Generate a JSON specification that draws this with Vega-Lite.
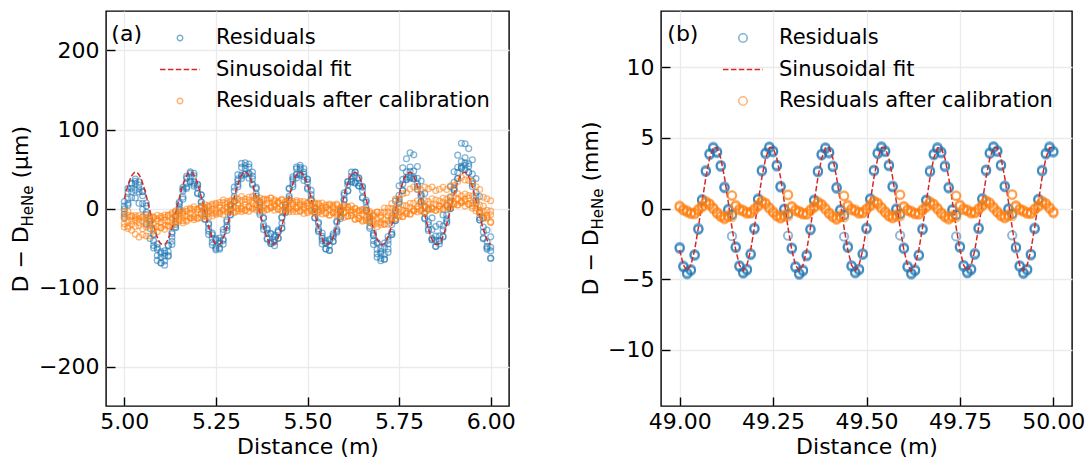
{
  "$schema": "https://vega.github.io/schema/vega-lite/v6.json",
  "padding": {"left": 8, "top": 10, "right": 5, "bottom": 2},
  "bounds": "flush",
  "spacing": 152,
  "datasets": {
    "aRes": [
      {"x":5.00,"y":-0.6},{"x":5.01,"y":12.1},{"x":5.02,"y":25.6},{"x":5.03,"y":31.8},{"x":5.04,"y":24.9},{"x":5.05,"y":16.1},{"x":5.06,"y":-4.7},{"x":5.07,"y":-20.2},{"x":5.08,"y":-41.0},{"x":5.09,"y":-51.8},
      {"x":5.10,"y":-62.0},{"x":5.11,"y":-60.2},{"x":5.12,"y":-54.9},{"x":5.13,"y":-36.4},{"x":5.14,"y":-20.1},{"x":5.15,"y":2.5},{"x":5.16,"y":22.3},{"x":5.17,"y":31.8},{"x":5.18,"y":39.5},{"x":5.19,"y":32.8},
      {"x":5.20,"y":26.3},{"x":5.21,"y":8.6},{"x":5.22,"y":-6.1},{"x":5.23,"y":-25.7},{"x":5.24,"y":-37.8},{"x":5.25,"y":-47.8},{"x":5.26,"y":-43.9},{"x":5.27,"y":-39.0},{"x":5.28,"y":-21.9},{"x":5.29,"y":-1.3},
      {"x":5.30,"y":15.2},{"x":5.31,"y":34.7},{"x":5.32,"y":42.4},{"x":5.33,"y":50.4},{"x":5.34,"y":44.6},{"x":5.35,"y":37.2},{"x":5.36,"y":18.7},{"x":5.37,"y":1.0},{"x":5.38,"y":-20.2},{"x":5.39,"y":-31.2},
      {"x":5.40,"y":-42.2},{"x":5.41,"y":-39.5},{"x":5.42,"y":-29.6},{"x":5.43,"y":-18.7},{"x":5.44,"y":1.4},{"x":5.45,"y":15.8},{"x":5.46,"y":35.3},{"x":5.47,"y":43.5},{"x":5.48,"y":50.0},{"x":5.49,"y":43.3},
      {"x":5.50,"y":33.1},{"x":5.51,"y":12.7},{"x":5.52,"y":-3.8},{"x":5.53,"y":-25.7},{"x":5.54,"y":-37.6},{"x":5.55,"y":-43.5},{"x":5.56,"y":-46.5},{"x":5.57,"y":-36.3},{"x":5.58,"y":-26.2},{"x":5.59,"y":-4.8},
      {"x":5.60,"y":11.4},{"x":5.61,"y":30.1},{"x":5.62,"y":37.4},{"x":5.63,"y":41.1},{"x":5.64,"y":32.3},{"x":5.65,"y":22.4},{"x":5.66,"y":1.1},{"x":5.67,"y":-17.1},{"x":5.68,"y":-34.6},{"x":5.69,"y":-51.8},
      {"x":5.70,"y":-56.9},{"x":5.71,"y":-58.5},{"x":5.72,"y":-44.8},{"x":5.73,"y":-30.1},{"x":5.74,"y":-6.2},{"x":5.75,"y":11.9},{"x":5.76,"y":30.9},{"x":5.77,"y":39.7},{"x":5.78,"y":47.1},{"x":5.79,"y":39.6},
      {"x":5.80,"y":30.9},{"x":5.81,"y":16.1},{"x":5.82,"y":-5.7},{"x":5.83,"y":-20.7},{"x":5.84,"y":-37.6},{"x":5.85,"y":-40.2},{"x":5.86,"y":-40.6},{"x":5.87,"y":-27.1},{"x":5.88,"y":-13.2},{"x":5.89,"y":8.4},
      {"x":5.90,"y":25.7},{"x":5.91,"y":45.6},{"x":5.92,"y":53.3},{"x":5.93,"y":57.7},{"x":5.94,"y":53.6},{"x":5.95,"y":34.4},{"x":5.96,"y":15.8},{"x":5.97,"y":-11.5},{"x":5.98,"y":-29.6},{"x":5.99,"y":-47.9},{"x":6.00,"y":-53.7},
      {"x":5.00,"y":-11.3},{"x":5.01,"y":4.0},{"x":5.02,"y":13.6},{"x":5.03,"y":13.4},{"x":5.04,"y":6.5},{"x":5.05,"y":-1.1},{"x":5.06,"y":-18.9},{"x":5.07,"y":-37.9},{"x":5.08,"y":-49.9},{"x":5.09,"y":-65.7},
      {"x":5.10,"y":-69.1},{"x":5.11,"y":-71.7},{"x":5.12,"y":-59.5},{"x":5.13,"y":-45.6},{"x":5.14,"y":-23.2},{"x":5.15,"y":-1.0},{"x":5.16,"y":14.4},{"x":5.17,"y":25.4},{"x":5.18,"y":34.3},{"x":5.19,"y":30.6},
      {"x":5.20,"y":18.6},{"x":5.21,"y":7.7},{"x":5.22,"y":-14.0},{"x":5.23,"y":-28.8},{"x":5.24,"y":-46.3},{"x":5.25,"y":-50.4},{"x":5.26,"y":-51.6},{"x":5.27,"y":-40.6},{"x":5.28,"y":-23.9},{"x":5.29,"y":-8.2},
      {"x":5.30,"y":9.8},{"x":5.31,"y":30.5},{"x":5.32,"y":41.2},{"x":5.33,"y":43.2},{"x":5.34,"y":43.7},{"x":5.35,"y":29.8},{"x":5.36,"y":15.6},{"x":5.37,"y":-7.5},{"x":5.38,"y":-22.8},{"x":5.39,"y":-38.9},
      {"x":5.40,"y":-44.3},{"x":5.41,"y":-42.5},{"x":5.42,"y":-37.5},{"x":5.43,"y":-25.1},{"x":5.44,"y":-3.8},{"x":5.45,"y":13.6},{"x":5.46,"y":27.6},{"x":5.47,"y":42.6},{"x":5.48,"y":42.1},{"x":5.49,"y":40.2},
      {"x":5.50,"y":24.6},{"x":5.51,"y":10.1},{"x":5.52,"y":-11.5},{"x":5.53,"y":-27.8},{"x":5.54,"y":-40.6},{"x":5.55,"y":-51.4},{"x":5.56,"y":-52.9},{"x":5.57,"y":-41.5},{"x":5.58,"y":-28.4},{"x":5.59,"y":-12.5},
      {"x":5.60,"y":10.5},{"x":5.61,"y":22.2},{"x":5.62,"y":34.3},{"x":5.63,"y":32.1},{"x":5.64,"y":28.7},{"x":5.65,"y":13.2},{"x":5.66,"y":-3.0},{"x":5.67,"y":-22.6},{"x":5.68,"y":-45.5},{"x":5.69,"y":-61.7},
      {"x":5.70,"y":-66.1},{"x":5.71,"y":-64.2},{"x":5.72,"y":-55.5},{"x":5.73,"y":-33.0},{"x":5.74,"y":-15.1},{"x":5.75,"y":8.3},{"x":5.76,"y":22.4},{"x":5.77,"y":37.1},{"x":5.78,"y":39.4},{"x":5.79,"y":37.5},
      {"x":5.80,"y":27.9},{"x":5.81,"y":8.2},{"x":5.82,"y":-12.1},{"x":5.83,"y":-25.9},{"x":5.84,"y":-39.8},{"x":5.85,"y":-47.9},{"x":5.86,"y":-41.5},{"x":5.87,"y":-35.0},{"x":5.88,"y":-16.3},{"x":5.89,"y":-0.1},
      {"x":5.90,"y":23.1},{"x":5.91,"y":37.9},{"x":5.92,"y":51.2},{"x":5.93,"y":54.7},{"x":5.94,"y":45.7},{"x":5.95,"y":28.0},{"x":5.96,"y":10.6},{"x":5.97,"y":-14.2},{"x":5.98,"y":-38.3},{"x":5.99,"y":-49.8},{"x":6.00,"y":-62.6},
      {"x":5.00,"y":8.8},{"x":5.01,"y":25.4},{"x":5.02,"y":31.9},{"x":5.03,"y":34.5},{"x":5.04,"y":33.7},{"x":5.05,"y":21.2},{"x":5.06,"y":7.0},{"x":5.07,"y":-15.8},{"x":5.08,"y":-32.3},{"x":5.09,"y":-45.0},
      {"x":5.10,"y":-56.7},{"x":5.11,"y":-53.6},{"x":5.12,"y":-47.1},{"x":5.13,"y":-30.0},{"x":5.14,"y":-8.8},{"x":5.15,"y":7.8},{"x":5.16,"y":24.5},{"x":5.17,"y":40.6},{"x":5.18,"y":44.6},{"x":5.19,"y":44.5},
      {"x":5.20,"y":30.7},{"x":5.21,"y":17.3},{"x":5.22,"y":0.7},{"x":5.23,"y":-20.4},{"x":5.24,"y":-31.2},{"x":5.25,"y":-40.0},{"x":5.26,"y":-37.5},{"x":5.27,"y":-26.7},{"x":5.28,"y":-14.6},{"x":5.29,"y":3.4},
      {"x":5.30,"y":27.0},{"x":5.31,"y":42.8},{"x":5.32,"y":57.1},{"x":5.33,"y":57.8},{"x":5.34,"y":56.3},{"x":5.35,"y":46.0},{"x":5.36,"y":25.0},{"x":5.37,"y":8.1},{"x":5.38,"y":-12.4},{"x":5.39,"y":-25.3},
      {"x":5.40,"y":-31.9},{"x":5.41,"y":-35.7},{"x":5.42,"y":-29.4},{"x":5.43,"y":-11.9},{"x":5.44,"y":4.5},{"x":5.45,"y":25.5},{"x":5.46,"y":37.7},{"x":5.47,"y":50.2},{"x":5.48,"y":54.8},{"x":5.49,"y":46.1},
      {"x":5.50,"y":36.7},{"x":5.51,"y":17.5},{"x":5.52,"y":-0.4},{"x":5.53,"y":-17.4},{"x":5.54,"y":-35.3},{"x":5.55,"y":-44.3},{"x":5.56,"y":-40.7},{"x":5.57,"y":-34.2},{"x":5.58,"y":-17.5},{"x":5.59,"y":-3.4},
      {"x":5.60,"y":17.1},{"x":5.61,"y":34.4},{"x":5.62,"y":40.7},{"x":5.63,"y":45.7},{"x":5.64,"y":38.1},{"x":5.65,"y":26.8},{"x":5.66,"y":10.4},{"x":5.67,"y":-13.3},{"x":5.68,"y":-33.4},{"x":5.69,"y":-43.0},
      {"x":5.70,"y":-50.8},{"x":5.71,"y":-43.8},{"x":5.72,"y":-35.4},{"x":5.73,"y":-14.4},{"x":5.74,"y":9.6},{"x":5.75,"y":28.7},{"x":5.76,"y":51.5},{"x":5.77,"y":63.0},{"x":5.78,"y":70.5},{"x":5.79,"y":67.9},
      {"x":5.80,"y":53.2},{"x":5.81,"y":34.8},{"x":5.82,"y":19.1},{"x":5.83,"y":-0.6},{"x":5.84,"y":-11.9},{"x":5.85,"y":-22.8},{"x":5.86,"y":-19.9},{"x":5.87,"y":-8.3},{"x":5.88,"y":4.1},{"x":5.89,"y":27.5},
      {"x":5.90,"y":46.5},{"x":5.91,"y":67.5},{"x":5.92,"y":82.6},{"x":5.93,"y":82.0},{"x":5.94,"y":75.8},{"x":5.95,"y":61.7},{"x":5.96,"y":37.9},{"x":5.97,"y":15.2},{"x":5.98,"y":-12.2},{"x":5.99,"y":-27.2},{"x":6.00,"y":-35.9},
      {"x":5.00,"y":-7.0},{"x":5.01,"y":6.6},{"x":5.02,"y":21.3},{"x":5.03,"y":23.1},{"x":5.04,"y":21.0},{"x":5.05,"y":6.4},{"x":5.06,"y":-7.6},{"x":5.07,"y":-25.2},{"x":5.08,"y":-46.7},{"x":5.09,"y":-59.6},
      {"x":5.10,"y":-68.6},{"x":5.11,"y":-66.5},{"x":5.12,"y":-60.6},{"x":5.13,"y":-41.5},{"x":5.14,"y":-24.4},{"x":5.15,"y":-2.6},{"x":5.16,"y":11.8},{"x":5.17,"y":27.1},{"x":5.18,"y":33.9},{"x":5.19,"y":28.3},
      {"x":5.20,"y":19.6},{"x":5.21,"y":3.1},{"x":5.22,"y":-13.3},{"x":5.23,"y":-33.0},{"x":5.24,"y":-42.8},{"x":5.25,"y":-52.3},{"x":5.26,"y":-49.8},{"x":5.27,"y":-45.1},{"x":5.28,"y":-27.8},{"x":5.29,"y":-7.7},
      {"x":5.30,"y":8.9},{"x":5.31,"y":27.4},{"x":5.32,"y":38.1},{"x":5.33,"y":44.3},{"x":5.34,"y":38.4},{"x":5.35,"y":31.3},{"x":5.36,"y":12.6},{"x":5.37,"y":-4.8},{"x":5.38,"y":-26.5},{"x":5.39,"y":-37.9},
      {"x":5.40,"y":-44.2},{"x":5.41,"y":-47.0},{"x":5.42,"y":-37.7},{"x":5.43,"y":-24.8},{"x":5.44,"y":-5.3},{"x":5.45,"y":10.8},{"x":5.46,"y":30.5},{"x":5.47,"y":38.5},{"x":5.48,"y":43.3},{"x":5.49,"y":35.4},
      {"x":5.50,"y":26.5},{"x":5.51,"y":10.5},{"x":5.52,"y":-12.1},{"x":5.53,"y":-29.4},{"x":5.54,"y":-44.9},{"x":5.55,"y":-51.0},{"x":5.56,"y":-53.3},{"x":5.57,"y":-41.7},{"x":5.58,"y":-30.0},{"x":5.59,"y":-10.4},
      {"x":5.60,"y":4.6},{"x":5.61,"y":22.6},{"x":5.62,"y":33.6},{"x":5.63,"y":32.9},{"x":5.64,"y":28.4},{"x":5.65,"y":14.3},{"x":5.66,"y":-2.0},{"x":5.67,"y":-25.1},{"x":5.68,"y":-40.8},{"x":5.69,"y":-57.4},
      {"x":5.70,"y":-63.1},{"x":5.71,"y":-64.1},{"x":5.72,"y":-51.2},{"x":5.73,"y":-32.8},{"x":5.74,"y":-15.3},{"x":5.75,"y":6.4},{"x":5.76,"y":22.9},{"x":5.77,"y":36.4},{"x":5.78,"y":38.3},{"x":5.79,"y":37.8},
      {"x":5.80,"y":24.1},{"x":5.81,"y":9.1},{"x":5.82,"y":-13.1},{"x":5.83,"y":-27.7},{"x":5.84,"y":-39.1},{"x":5.85,"y":-48.2},{"x":5.86,"y":-45.0},{"x":5.87,"y":-36.0},{"x":5.88,"y":-18.1},{"x":5.89,"y":-0.3},
      {"x":5.90,"y":23.7},{"x":5.91,"y":38.0},{"x":5.92,"y":50.7},{"x":5.93,"y":49.1},{"x":5.94,"y":45.8},{"x":5.95,"y":31.1},{"x":5.96,"y":7.2},{"x":5.97,"y":-14.7},{"x":5.98,"y":-37.4},{"x":5.99,"y":-51.7},{"x":6.00,"y":-63.3},
      {"x":5.00,"y":3.0},{"x":5.01,"y":20.8},{"x":5.02,"y":30.9},{"x":5.03,"y":37.2},{"x":5.04,"y":29.7},{"x":5.05,"y":21.5},{"x":5.06,"y":3.3},{"x":5.07,"y":-12.8},{"x":5.08,"y":-33.5},{"x":5.09,"y":-49.3},
      {"x":5.10,"y":-54.7},{"x":5.11,"y":-56.5},{"x":5.12,"y":-46.4},{"x":5.13,"y":-31.9},{"x":5.14,"y":-10.3},{"x":5.15,"y":6.1},{"x":5.16,"y":26.9},{"x":5.17,"y":38.0},{"x":5.18,"y":46.3},{"x":5.19,"y":41.5},
      {"x":5.20,"y":29.9},{"x":5.21,"y":17.0},{"x":5.22,"y":-3.3},{"x":5.23,"y":-18.8},{"x":5.24,"y":-33.2},{"x":5.25,"y":-38.2},{"x":5.26,"y":-41.1},{"x":5.27,"y":-30.0},{"x":5.28,"y":-16.9},{"x":5.29,"y":4.7},
      {"x":5.30,"y":22.1},{"x":5.31,"y":37.7},{"x":5.32,"y":52.0},{"x":5.33,"y":54.3},{"x":5.34,"y":52.6},{"x":5.35,"y":40.9},{"x":5.36,"y":26.7},{"x":5.37,"y":3.9},{"x":5.38,"y":-11.4},{"x":5.39,"y":-27.0},
      {"x":5.40,"y":-31.8},{"x":5.41,"y":-33.8},{"x":5.42,"y":-27.4},{"x":5.43,"y":-10.9},{"x":5.44,"y":4.7},{"x":5.45,"y":25.0},{"x":5.46,"y":40.1},{"x":5.47,"y":52.6},{"x":5.48,"y":52.0},{"x":5.49,"y":50.5},
      {"x":5.50,"y":37.4},{"x":5.51,"y":22.9},{"x":5.52,"y":1.1},{"x":5.53,"y":-19.1},{"x":5.54,"y":-31.0},{"x":5.55,"y":-41.0},{"x":5.56,"y":-39.1},{"x":5.57,"y":-32.1},{"x":5.58,"y":-15.9},{"x":5.59,"y":-1.7},
      {"x":5.60,"y":19.7},{"x":5.61,"y":33.5},{"x":5.62,"y":46.0},{"x":5.63,"y":46.1},{"x":5.64,"y":38.7},{"x":5.65,"y":28.2},{"x":5.66,"y":8.0},{"x":5.67,"y":-10.9},{"x":5.68,"y":-31.2},{"x":5.69,"y":-43.3},
      {"x":5.70,"y":-54.4},{"x":5.71,"y":-49.0},{"x":5.72,"y":-40.3},{"x":5.73,"y":-20.4},{"x":5.74,"y":-2.1},{"x":5.75,"y":16.7},{"x":5.76,"y":36.8},{"x":5.77,"y":46.4},{"x":5.78,"y":52.5},{"x":5.79,"y":47.4},
      {"x":5.80,"y":38.2},{"x":5.81,"y":17.8},{"x":5.82,"y":2.0},{"x":5.83,"y":-16.8},{"x":5.84,"y":-26.7},{"x":5.85,"y":-35.0},{"x":5.86,"y":-34.7},{"x":5.87,"y":-22.1},{"x":5.88,"y":-8.1},{"x":5.89,"y":13.9},
      {"x":5.90,"y":33.3},{"x":5.91,"y":52.1},{"x":5.92,"y":59.4},{"x":5.93,"y":64.2},{"x":5.94,"y":56.7},{"x":5.95,"y":43.5},{"x":5.96,"y":20.4},{"x":5.97,"y":-4.4},{"x":5.98,"y":-23.5},{"x":5.99,"y":-41.7},{"x":6.00,"y":-49.1}
    ],
    "aFit": [
      {"x":5.00,"y":12.2},{"x":5.01,"y":29.2},{"x":5.02,"y":41.2},{"x":5.03,"y":46.0},{"x":5.04,"y":42.7},{"x":5.05,"y":32.1},{"x":5.06,"y":15.9},{"x":5.07,"y":-3.1},{"x":5.08,"y":-21.6},{"x":5.09,"y":-36.3},
      {"x":5.10,"y":-44.7},{"x":5.11,"y":-45.3},{"x":5.12,"y":-38.0},{"x":5.13,"y":-24.1},{"x":5.14,"y":-6.0},{"x":5.15,"y":13.1},{"x":5.16,"y":30.0},{"x":5.17,"y":41.6},{"x":5.18,"y":46.0},{"x":5.19,"y":42.4},
      {"x":5.20,"y":31.4},{"x":5.21,"y":15.0},{"x":5.22,"y":-4.1},{"x":5.23,"y":-22.4},{"x":5.24,"y":-36.9},{"x":5.25,"y":-44.9},{"x":5.26,"y":-45.1},{"x":5.27,"y":-37.4},{"x":5.28,"y":-23.3},{"x":5.29,"y":-5.1},
      {"x":5.30,"y":14.0},{"x":5.31,"y":30.7},{"x":5.32,"y":42.0},{"x":5.33,"y":46.0},{"x":5.34,"y":42.0},{"x":5.35,"y":30.7},{"x":5.36,"y":14.0},{"x":5.37,"y":-5.1},{"x":5.38,"y":-23.3},{"x":5.39,"y":-37.4},
      {"x":5.40,"y":-45.1},{"x":5.41,"y":-44.9},{"x":5.42,"y":-36.9},{"x":5.43,"y":-22.4},{"x":5.44,"y":-4.1},{"x":5.45,"y":14.9},{"x":5.46,"y":31.4},{"x":5.47,"y":42.4},{"x":5.48,"y":46.0},{"x":5.49,"y":41.6},
      {"x":5.50,"y":30.0},{"x":5.51,"y":13.1},{"x":5.52,"y":-6.0},{"x":5.53,"y":-24.1},{"x":5.54,"y":-38.0},{"x":5.55,"y":-45.3},{"x":5.56,"y":-44.7},{"x":5.57,"y":-36.3},{"x":5.58,"y":-21.6},{"x":5.59,"y":-3.2},
      {"x":5.60,"y":15.8},{"x":5.61,"y":32.1},{"x":5.62,"y":42.7},{"x":5.63,"y":46.0},{"x":5.64,"y":41.2},{"x":5.65,"y":29.2},{"x":5.66,"y":12.2},{"x":5.67,"y":-7.0},{"x":5.68,"y":-24.9},{"x":5.69,"y":-38.5},
      {"x":5.70,"y":-45.4},{"x":5.71,"y":-44.4},{"x":5.72,"y":-35.7},{"x":5.73,"y":-20.7},{"x":5.74,"y":-2.2},{"x":5.75,"y":16.7},{"x":5.76,"y":32.8},{"x":5.77,"y":43.1},{"x":5.78,"y":45.9},{"x":5.79,"y":40.7},
      {"x":5.80,"y":28.5},{"x":5.81,"y":11.3},{"x":5.82,"y":-7.9},{"x":5.83,"y":-25.7},{"x":5.84,"y":-39.0},{"x":5.85,"y":-45.6},{"x":5.86,"y":-44.2},{"x":5.87,"y":-35.1},{"x":5.88,"y":-19.9},{"x":5.89,"y":-1.2},
      {"x":5.90,"y":17.6},{"x":5.91,"y":33.4},{"x":5.92,"y":43.4},{"x":5.93,"y":45.8},{"x":5.94,"y":40.3},{"x":5.95,"y":27.7},{"x":5.96,"y":10.3},{"x":5.97,"y":-8.9},{"x":5.98,"y":-26.5},{"x":5.99,"y":-39.5},{"x":6.00,"y":-45.7}
    ],
    "aCal": [
      {"x":5.00,"y":-12.8},{"x":5.01,"y":-17.1},{"x":5.02,"y":-15.6},{"x":5.03,"y":-14.2},{"x":5.04,"y":-17.8},{"x":5.05,"y":-16.0},{"x":5.06,"y":-20.6},{"x":5.07,"y":-17.1},{"x":5.08,"y":-19.4},{"x":5.09,"y":-15.5},
      {"x":5.10,"y":-17.3},{"x":5.11,"y":-14.9},{"x":5.12,"y":-16.9},{"x":5.13,"y":-12.3},{"x":5.14,"y":-14.1},{"x":5.15,"y":-10.6},{"x":5.16,"y":-7.7},{"x":5.17,"y":-9.8},{"x":5.18,"y":-6.5},{"x":5.19,"y":-9.6},
      {"x":5.20,"y":-5.1},{"x":5.21,"y":-6.4},{"x":5.22,"y":-2.0},{"x":5.23,"y":-3.3},{"x":5.24,"y":-0.9},{"x":5.25,"y":-2.9},{"x":5.26,"y":1.2},{"x":5.27,"y":-1.6},{"x":5.28,"y":1.4},{"x":5.29,"y":3.8},
      {"x":5.30,"y":1.2},{"x":5.31,"y":4.0},{"x":5.32,"y":0.4},{"x":5.33,"y":4.4},{"x":5.34,"y":2.6},{"x":5.35,"y":6.5},{"x":5.36,"y":4.7},{"x":5.37,"y":6.1},{"x":5.38,"y":3.1},{"x":5.39,"y":6.2},
      {"x":5.40,"y":2.9},{"x":5.41,"y":5.4},{"x":5.42,"y":7.3},{"x":5.43,"y":3.7},{"x":5.44,"y":5.5},{"x":5.45,"y":0.9},{"x":5.46,"y":3.9},{"x":5.47,"y":1.1},{"x":5.48,"y":4.0},{"x":5.49,"y":1.7},
      {"x":5.50,"y":3.1},{"x":5.51,"y":-0.4},{"x":5.52,"y":2.2},{"x":5.53,"y":-1.6},{"x":5.54,"y":0.4},{"x":5.55,"y":1.8},{"x":5.56,"y":-1.8},{"x":5.57,"y":0.0},{"x":5.58,"y":-4.6},{"x":5.59,"y":-1.6},
      {"x":5.60,"y":-4.4},{"x":5.61,"y":-2.0},{"x":5.62,"y":-5.3},{"x":5.63,"y":-4.9},{"x":5.64,"y":-8.9},{"x":5.65,"y":-6.8},{"x":5.66,"y":-11.1},{"x":5.67,"y":-10.1},{"x":5.68,"y":-9.7},{"x":5.69,"y":-13.3},
      {"x":5.70,"y":-11.5},{"x":5.71,"y":-14.1},{"x":5.72,"y":-9.1},{"x":5.73,"y":-9.4},{"x":5.74,"y":-4.0},{"x":5.75,"y":-4.8},{"x":5.76,"y":-1.9},{"x":5.77,"y":-3.4},{"x":5.78,"y":1.2},{"x":5.79,"y":-1.1},
      {"x":5.80,"y":2.4},{"x":5.81,"y":4.8},{"x":5.82,"y":2.2},{"x":5.83,"y":5.0},{"x":5.84,"y":1.4},{"x":5.85,"y":5.4},{"x":5.86,"y":3.6},{"x":5.87,"y":8.0},{"x":5.88,"y":6.7},{"x":5.89,"y":9.6},
      {"x":5.90,"y":8.1},{"x":5.91,"y":12.2},{"x":5.92,"y":9.9},{"x":5.93,"y":11.9},{"x":5.94,"y":13.3},{"x":5.95,"y":6.7},{"x":5.96,"y":5.5},{"x":5.97,"y":-2.6},{"x":5.98,"y":-3.1},{"x":5.99,"y":-8.4},{"x":6.00,"y":-8.0},
      {"x":5.00,"y":-23.5},{"x":5.01,"y":-25.2},{"x":5.02,"y":-27.6},{"x":5.03,"y":-32.6},{"x":5.04,"y":-36.2},{"x":5.05,"y":-33.2},{"x":5.06,"y":-34.8},{"x":5.07,"y":-34.8},{"x":5.08,"y":-28.3},{"x":5.09,"y":-29.4},
      {"x":5.10,"y":-24.4},{"x":5.11,"y":-26.4},{"x":5.12,"y":-21.5},{"x":5.13,"y":-21.5},{"x":5.14,"y":-17.2},{"x":5.15,"y":-14.1},{"x":5.16,"y":-15.6},{"x":5.17,"y":-16.2},{"x":5.18,"y":-11.7},{"x":5.19,"y":-11.8},
      {"x":5.20,"y":-12.8},{"x":5.21,"y":-7.3},{"x":5.22,"y":-9.9},{"x":5.23,"y":-6.4},{"x":5.24,"y":-9.4},{"x":5.25,"y":-5.5},{"x":5.26,"y":-6.5},{"x":5.27,"y":-3.2},{"x":5.28,"y":-0.6},{"x":5.29,"y":-3.1},
      {"x":5.30,"y":-4.2},{"x":5.31,"y":-0.2},{"x":5.32,"y":-0.8},{"x":5.33,"y":-2.8},{"x":5.34,"y":1.7},{"x":5.35,"y":-0.9},{"x":5.36,"y":1.6},{"x":5.37,"y":-2.4},{"x":5.38,"y":0.5},{"x":5.39,"y":-1.5},
      {"x":5.40,"y":0.8},{"x":5.41,"y":2.4},{"x":5.42,"y":-0.6},{"x":5.43,"y":-2.7},{"x":5.44,"y":0.3},{"x":5.45,"y":-1.3},{"x":5.46,"y":-3.8},{"x":5.47,"y":0.2},{"x":5.48,"y":-3.9},{"x":5.49,"y":-1.4},
      {"x":5.50,"y":-5.4},{"x":5.51,"y":-3.0},{"x":5.52,"y":-5.5},{"x":5.53,"y":-3.7},{"x":5.54,"y":-2.6},{"x":5.55,"y":-6.1},{"x":5.56,"y":-8.2},{"x":5.57,"y":-5.2},{"x":5.58,"y":-6.8},{"x":5.59,"y":-9.3},
      {"x":5.60,"y":-5.3},{"x":5.61,"y":-9.9},{"x":5.62,"y":-8.4},{"x":5.63,"y":-13.9},{"x":5.64,"y":-12.5},{"x":5.65,"y":-16.0},{"x":5.66,"y":-15.2},{"x":5.67,"y":-15.6},{"x":5.68,"y":-20.6},{"x":5.69,"y":-23.2},
      {"x":5.70,"y":-20.7},{"x":5.71,"y":-19.8},{"x":5.72,"y":-19.8},{"x":5.73,"y":-12.3},{"x":5.74,"y":-12.9},{"x":5.75,"y":-8.4},{"x":5.76,"y":-10.4},{"x":5.77,"y":-6.0},{"x":5.78,"y":-6.5},{"x":5.79,"y":-3.2},
      {"x":5.80,"y":-0.6},{"x":5.81,"y":-3.1},{"x":5.82,"y":-4.2},{"x":5.83,"y":-0.2},{"x":5.84,"y":-0.8},{"x":5.85,"y":-2.3},{"x":5.86,"y":2.7},{"x":5.87,"y":0.1},{"x":5.88,"y":3.6},{"x":5.89,"y":1.1},
      {"x":5.90,"y":5.5},{"x":5.91,"y":4.5},{"x":5.92,"y":7.8},{"x":5.93,"y":8.9},{"x":5.94,"y":5.4},{"x":5.95,"y":0.3},{"x":5.96,"y":0.3},{"x":5.97,"y":-5.3},{"x":5.98,"y":-11.8},{"x":5.99,"y":-10.3},{"x":6.00,"y":-16.9},
      {"x":5.00,"y":-3.4},{"x":5.01,"y":-3.8},{"x":5.02,"y":-9.3},{"x":5.03,"y":-11.5},{"x":5.04,"y":-9.0},{"x":5.05,"y":-10.9},{"x":5.06,"y":-8.9},{"x":5.07,"y":-12.7},{"x":5.08,"y":-10.7},{"x":5.09,"y":-8.7},
      {"x":5.10,"y":-12.0},{"x":5.11,"y":-8.3},{"x":5.12,"y":-9.1},{"x":5.13,"y":-5.9},{"x":5.14,"y":-2.8},{"x":5.15,"y":-5.3},{"x":5.16,"y":-5.5},{"x":5.17,"y":-1.0},{"x":5.18,"y":-1.4},{"x":5.19,"y":2.1},
      {"x":5.20,"y":-0.7},{"x":5.21,"y":2.3},{"x":5.22,"y":4.8},{"x":5.23,"y":2.0},{"x":5.24,"y":5.7},{"x":5.25,"y":4.9},{"x":5.26,"y":7.6},{"x":5.27,"y":10.7},{"x":5.28,"y":8.7},{"x":5.29,"y":8.5},
      {"x":5.30,"y":13.0},{"x":5.31,"y":12.1},{"x":5.32,"y":15.1},{"x":5.33,"y":11.8},{"x":5.34,"y":14.3},{"x":5.35,"y":15.3},{"x":5.36,"y":11.0},{"x":5.37,"y":13.2},{"x":5.38,"y":10.9},{"x":5.39,"y":12.1},
      {"x":5.40,"y":13.2},{"x":5.41,"y":9.2},{"x":5.42,"y":7.5},{"x":5.43,"y":10.5},{"x":5.44,"y":8.6},{"x":5.45,"y":10.6},{"x":5.46,"y":6.3},{"x":5.47,"y":7.8},{"x":5.48,"y":8.8},{"x":5.49,"y":4.5},
      {"x":5.50,"y":6.7},{"x":5.51,"y":4.4},{"x":5.52,"y":5.6},{"x":5.53,"y":6.7},{"x":5.54,"y":2.7},{"x":5.55,"y":1.0},{"x":5.56,"y":4.0},{"x":5.57,"y":2.1},{"x":5.58,"y":4.1},{"x":5.59,"y":-0.2},
      {"x":5.60,"y":1.3},{"x":5.61,"y":2.3},{"x":5.62,"y":-2.0},{"x":5.63,"y":-0.3},{"x":5.64,"y":-3.1},{"x":5.65,"y":-2.4},{"x":5.66,"y":-1.8},{"x":5.67,"y":-6.3},{"x":5.68,"y":-8.5},{"x":5.69,"y":-4.5},
      {"x":5.70,"y":-5.4},{"x":5.71,"y":0.6},{"x":5.72,"y":0.3},{"x":5.73,"y":6.3},{"x":5.74,"y":11.8},{"x":5.75,"y":12.0},{"x":5.76,"y":18.7},{"x":5.77,"y":19.9},{"x":5.78,"y":24.6},{"x":5.79,"y":27.2},
      {"x":5.80,"y":24.7},{"x":5.81,"y":23.5},{"x":5.82,"y":27.0},{"x":5.83,"y":25.1},{"x":5.84,"y":27.1},{"x":5.85,"y":22.8},{"x":5.86,"y":24.3},{"x":5.87,"y":26.8},{"x":5.88,"y":24.0},{"x":5.89,"y":28.7},
      {"x":5.90,"y":28.9},{"x":5.91,"y":34.1},{"x":5.92,"y":39.2},{"x":5.93,"y":36.2},{"x":5.94,"y":35.5},{"x":5.95,"y":34.0},{"x":5.96,"y":27.6},{"x":5.97,"y":24.1},{"x":5.98,"y":14.3},{"x":5.99,"y":12.3},{"x":6.00,"y":9.8},
      {"x":5.00,"y":-19.2},{"x":5.01,"y":-22.6},{"x":5.02,"y":-19.9},{"x":5.03,"y":-22.9},{"x":5.04,"y":-21.7},{"x":5.05,"y":-25.7},{"x":5.06,"y":-23.5},{"x":5.07,"y":-22.1},{"x":5.08,"y":-25.1},{"x":5.09,"y":-23.3},
      {"x":5.10,"y":-23.9},{"x":5.11,"y":-21.2},{"x":5.12,"y":-22.6},{"x":5.13,"y":-17.4},{"x":5.14,"y":-18.4},{"x":5.15,"y":-15.7},{"x":5.16,"y":-18.2},{"x":5.17,"y":-14.5},{"x":5.18,"y":-12.1},{"x":5.19,"y":-14.1},
      {"x":5.20,"y":-11.8},{"x":5.21,"y":-11.9},{"x":5.22,"y":-9.2},{"x":5.23,"y":-10.6},{"x":5.24,"y":-5.9},{"x":5.25,"y":-7.4},{"x":5.26,"y":-4.7},{"x":5.27,"y":-7.7},{"x":5.28,"y":-4.5},{"x":5.29,"y":-2.6},
      {"x":5.30,"y":-5.1},{"x":5.31,"y":-3.3},{"x":5.32,"y":-3.9},{"x":5.33,"y":-1.7},{"x":5.34,"y":-3.6},{"x":5.35,"y":0.6},{"x":5.36,"y":-1.4},{"x":5.37,"y":0.3},{"x":5.38,"y":-3.2},{"x":5.39,"y":-0.5},
      {"x":5.40,"y":0.9},{"x":5.41,"y":-2.1},{"x":5.42,"y":-0.8},{"x":5.43,"y":-2.4},{"x":5.44,"y":-1.2},{"x":5.45,"y":-4.1},{"x":5.46,"y":-0.9},{"x":5.47,"y":-3.9},{"x":5.48,"y":-2.7},{"x":5.49,"y":-6.2},
      {"x":5.50,"y":-3.5},{"x":5.51,"y":-2.6},{"x":5.52,"y":-6.1},{"x":5.53,"y":-5.3},{"x":5.54,"y":-6.9},{"x":5.55,"y":-5.7},{"x":5.56,"y":-8.6},{"x":5.57,"y":-5.4},{"x":5.58,"y":-8.4},{"x":5.59,"y":-7.2},
      {"x":5.60,"y":-11.2},{"x":5.61,"y":-9.5},{"x":5.62,"y":-9.1},{"x":5.63,"y":-13.1},{"x":5.64,"y":-12.8},{"x":5.65,"y":-14.9},{"x":5.66,"y":-14.2},{"x":5.67,"y":-18.1},{"x":5.68,"y":-15.9},{"x":5.69,"y":-18.9},
      {"x":5.70,"y":-17.7},{"x":5.71,"y":-19.7},{"x":5.72,"y":-15.5},{"x":5.73,"y":-12.1},{"x":5.74,"y":-13.1},{"x":5.75,"y":-10.3},{"x":5.76,"y":-9.9},{"x":5.77,"y":-6.7},{"x":5.78,"y":-7.6},{"x":5.79,"y":-2.9},
      {"x":5.80,"y":-4.4},{"x":5.81,"y":-2.2},{"x":5.82,"y":-5.2},{"x":5.83,"y":-2.0},{"x":5.84,"y":-0.1},{"x":5.85,"y":-2.6},{"x":5.86,"y":-0.8},{"x":5.87,"y":-0.9},{"x":5.88,"y":1.8},{"x":5.89,"y":0.9},
      {"x":5.90,"y":6.1},{"x":5.91,"y":4.6},{"x":5.92,"y":7.3},{"x":5.93,"y":3.3},{"x":5.94,"y":5.5},{"x":5.95,"y":3.4},{"x":5.96,"y":-3.1},{"x":5.97,"y":-5.8},{"x":5.98,"y":-10.9},{"x":5.99,"y":-12.2},{"x":6.00,"y":-17.6},
      {"x":5.00,"y":-9.2},{"x":5.01,"y":-8.4},{"x":5.02,"y":-10.3},{"x":5.03,"y":-8.8},{"x":5.04,"y":-13.0},{"x":5.05,"y":-10.6},{"x":5.06,"y":-12.6},{"x":5.07,"y":-9.7},{"x":5.08,"y":-11.9},{"x":5.09,"y":-13.0},
      {"x":5.10,"y":-10.0},{"x":5.11,"y":-11.2},{"x":5.12,"y":-8.4},{"x":5.13,"y":-7.8},{"x":5.14,"y":-4.3},{"x":5.15,"y":-7.0},{"x":5.16,"y":-3.1},{"x":5.17,"y":-3.6},{"x":5.18,"y":0.3},{"x":5.19,"y":-0.9},
      {"x":5.20,"y":-1.5},{"x":5.21,"y":2.0},{"x":5.22,"y":0.8},{"x":5.23,"y":3.6},{"x":5.24,"y":3.7},{"x":5.25,"y":6.7},{"x":5.26,"y":4.0},{"x":5.27,"y":7.4},{"x":5.28,"y":6.4},{"x":5.29,"y":9.8},
      {"x":5.30,"y":8.1},{"x":5.31,"y":7.0},{"x":5.32,"y":10.0},{"x":5.33,"y":8.3},{"x":5.34,"y":10.6},{"x":5.35,"y":10.2},{"x":5.36,"y":12.7},{"x":5.37,"y":9.0},{"x":5.38,"y":11.9},{"x":5.39,"y":10.4},
      {"x":5.40,"y":13.3},{"x":5.41,"y":11.1},{"x":5.42,"y":9.5},{"x":5.43,"y":11.5},{"x":5.44,"y":8.8},{"x":5.45,"y":10.1},{"x":5.46,"y":8.7},{"x":5.47,"y":10.2},{"x":5.48,"y":6.0},{"x":5.49,"y":8.9},
      {"x":5.50,"y":7.4},{"x":5.51,"y":9.8},{"x":5.52,"y":7.1},{"x":5.53,"y":5.0},{"x":5.54,"y":7.0},{"x":5.55,"y":4.3},{"x":5.56,"y":5.6},{"x":5.57,"y":4.2},{"x":5.58,"y":5.7},{"x":5.59,"y":1.5},
      {"x":5.60,"y":3.9},{"x":5.61,"y":1.4},{"x":5.62,"y":3.3},{"x":5.63,"y":0.1},{"x":5.64,"y":-2.5},{"x":5.65,"y":-1.0},{"x":5.66,"y":-4.2},{"x":5.67,"y":-3.9},{"x":5.68,"y":-6.3},{"x":5.69,"y":-4.8},
      {"x":5.70,"y":-9.0},{"x":5.71,"y":-4.6},{"x":5.72,"y":-4.6},{"x":5.73,"y":0.3},{"x":5.74,"y":0.1},{"x":5.75,"y":0.0},{"x":5.76,"y":4.0},{"x":5.77,"y":3.3},{"x":5.78,"y":6.6},{"x":5.79,"y":6.7},
      {"x":5.80,"y":9.7},{"x":5.81,"y":6.5},{"x":5.82,"y":9.9},{"x":5.83,"y":8.9},{"x":5.84,"y":12.3},{"x":5.85,"y":10.6},{"x":5.86,"y":9.5},{"x":5.87,"y":13.0},{"x":5.88,"y":11.8},{"x":5.89,"y":15.1},
      {"x":5.90,"y":15.7},{"x":5.91,"y":18.7},{"x":5.92,"y":16.0},{"x":5.93,"y":18.4},{"x":5.94,"y":16.4},{"x":5.95,"y":15.8},{"x":5.96,"y":10.1},{"x":5.97,"y":4.5},{"x":5.98,"y":3.0},{"x":5.99,"y":-2.2},{"x":6.00,"y":-3.4}
    ],
    "bRes": [
      {"x":49.00,"y":-2.79},{"x":49.01,"y":-4.12},{"x":49.02,"y":-4.60},{"x":49.03,"y":-4.37},{"x":49.04,"y":-3.29},{"x":49.05,"y":-1.46},{"x":49.06,"y":0.61},{"x":49.07,"y":2.65},{"x":49.08,"y":3.86},{"x":49.09,"y":4.30},{"x":49.10,"y":4.00},{"x":49.11,"y":3.01},{"x":49.12,"y":1.50},{"x":49.13,"y":-0.09},{"x":49.14,"y":-0.41},
      {"x":49.15,"y":-2.75},{"x":49.16,"y":-4.08},{"x":49.17,"y":-4.56},{"x":49.18,"y":-4.33},{"x":49.19,"y":-3.25},{"x":49.20,"y":-1.42},{"x":49.21,"y":0.65},{"x":49.22,"y":2.69},{"x":49.23,"y":3.90},{"x":49.24,"y":4.34},{"x":49.25,"y":4.04},{"x":49.26,"y":3.05},{"x":49.27,"y":1.54},{"x":49.28,"y":-0.05},{"x":49.29,"y":-0.37},
      {"x":49.30,"y":-2.82},{"x":49.31,"y":-4.15},{"x":49.32,"y":-4.63},{"x":49.33,"y":-4.40},{"x":49.34,"y":-3.32},{"x":49.35,"y":-1.49},{"x":49.36,"y":0.58},{"x":49.37,"y":2.62},{"x":49.38,"y":3.83},{"x":49.39,"y":4.27},{"x":49.40,"y":3.97},{"x":49.41,"y":2.98},{"x":49.42,"y":1.47},{"x":49.43,"y":-0.12},{"x":49.44,"y":-0.44},
      {"x":49.45,"y":-2.74},{"x":49.46,"y":-4.07},{"x":49.47,"y":-4.55},{"x":49.48,"y":-4.32},{"x":49.49,"y":-3.24},{"x":49.50,"y":-1.41},{"x":49.51,"y":0.66},{"x":49.52,"y":2.70},{"x":49.53,"y":3.91},{"x":49.54,"y":4.35},{"x":49.55,"y":4.05},{"x":49.56,"y":3.06},{"x":49.57,"y":1.55},{"x":49.58,"y":-0.04},{"x":49.59,"y":-0.36},
      {"x":49.60,"y":-2.81},{"x":49.61,"y":-4.14},{"x":49.62,"y":-4.62},{"x":49.63,"y":-4.39},{"x":49.64,"y":-3.31},{"x":49.65,"y":-1.48},{"x":49.66,"y":0.59},{"x":49.67,"y":2.63},{"x":49.68,"y":3.84},{"x":49.69,"y":4.28},{"x":49.70,"y":3.98},{"x":49.71,"y":2.99},{"x":49.72,"y":1.48},{"x":49.73,"y":-0.11},{"x":49.74,"y":-0.43},
      {"x":49.75,"y":-2.73},{"x":49.76,"y":-4.06},{"x":49.77,"y":-4.54},{"x":49.78,"y":-4.31},{"x":49.79,"y":-3.23},{"x":49.80,"y":-1.40},{"x":49.81,"y":0.67},{"x":49.82,"y":2.71},{"x":49.83,"y":3.92},{"x":49.84,"y":4.36},{"x":49.85,"y":4.06},{"x":49.86,"y":3.07},{"x":49.87,"y":1.56},{"x":49.88,"y":-0.03},{"x":49.89,"y":-0.35},
      {"x":49.90,"y":-2.76},{"x":49.91,"y":-4.09},{"x":49.92,"y":-4.57},{"x":49.93,"y":-4.34},{"x":49.94,"y":-3.26},{"x":49.95,"y":-1.43},{"x":49.96,"y":0.64},{"x":49.97,"y":2.68},{"x":49.98,"y":3.89},{"x":49.99,"y":4.33},{"x":50.00,"y":4.03},
      {"x":49.00,"y":-2.73},{"x":49.01,"y":-4.17},{"x":49.02,"y":-4.54},{"x":49.03,"y":-4.42},{"x":49.04,"y":-3.23},{"x":49.05,"y":-1.51},{"x":49.06,"y":0.67},{"x":49.07,"y":2.60},{"x":49.08,"y":3.92},{"x":49.09,"y":4.25},{"x":49.10,"y":4.06},{"x":49.11,"y":2.96},{"x":49.12,"y":1.56},{"x":49.13,"y":-0.14},{"x":49.14,"y":-0.46},
      {"x":49.15,"y":-2.80},{"x":49.16,"y":-4.02},{"x":49.17,"y":-4.61},{"x":49.18,"y":-4.27},{"x":49.19,"y":-3.30},{"x":49.20,"y":-1.36},{"x":49.21,"y":0.60},{"x":49.22,"y":2.75},{"x":49.23,"y":3.85},{"x":49.24,"y":4.40},{"x":49.25,"y":3.99},{"x":49.26,"y":3.11},{"x":49.27,"y":1.49},{"x":49.28,"y":0.01},{"x":49.29,"y":-0.42},
      {"x":49.30,"y":-2.76},{"x":49.31,"y":-4.20},{"x":49.32,"y":-4.57},{"x":49.33,"y":-4.45},{"x":49.34,"y":-3.26},{"x":49.35,"y":-1.54},{"x":49.36,"y":0.64},{"x":49.37,"y":2.57},{"x":49.38,"y":3.89},{"x":49.39,"y":4.22},{"x":49.40,"y":4.03},{"x":49.41,"y":2.93},{"x":49.42,"y":1.53},{"x":49.43,"y":-0.17},{"x":49.44,"y":-0.49},
      {"x":49.45,"y":-2.79},{"x":49.46,"y":-4.01},{"x":49.47,"y":-4.60},{"x":49.48,"y":-4.26},{"x":49.49,"y":-3.29},{"x":49.50,"y":-1.35},{"x":49.51,"y":0.61},{"x":49.52,"y":2.76},{"x":49.53,"y":3.86},{"x":49.54,"y":4.41},{"x":49.55,"y":4.00},{"x":49.56,"y":3.12},{"x":49.57,"y":1.50},{"x":49.58,"y":0.02},{"x":49.59,"y":-0.41},
      {"x":49.60,"y":-2.75},{"x":49.61,"y":-4.19},{"x":49.62,"y":-4.56},{"x":49.63,"y":-4.44},{"x":49.64,"y":-3.25},{"x":49.65,"y":-1.53},{"x":49.66,"y":0.65},{"x":49.67,"y":2.58},{"x":49.68,"y":3.90},{"x":49.69,"y":4.23},{"x":49.70,"y":4.04},{"x":49.71,"y":2.94},{"x":49.72,"y":1.54},{"x":49.73,"y":-0.16},{"x":49.74,"y":-0.48},
      {"x":49.75,"y":-2.78},{"x":49.76,"y":-4.00},{"x":49.77,"y":-4.59},{"x":49.78,"y":-4.25},{"x":49.79,"y":-3.28},{"x":49.80,"y":-1.34},{"x":49.81,"y":0.62},{"x":49.82,"y":2.77},{"x":49.83,"y":3.87},{"x":49.84,"y":4.42},{"x":49.85,"y":4.01},{"x":49.86,"y":3.13},{"x":49.87,"y":1.51},{"x":49.88,"y":0.03},{"x":49.89,"y":-0.40},
      {"x":49.90,"y":-2.70},{"x":49.91,"y":-4.14},{"x":49.92,"y":-4.51},{"x":49.93,"y":-4.39},{"x":49.94,"y":-3.20},{"x":49.95,"y":-1.48},{"x":49.96,"y":0.70},{"x":49.97,"y":2.63},{"x":49.98,"y":3.95},{"x":49.99,"y":4.28},{"x":50.00,"y":4.09},
      {"x":49.00,"y":-2.86},{"x":49.01,"y":-4.04},{"x":49.02,"y":-4.67},{"x":49.03,"y":-4.29},{"x":49.04,"y":-3.36},{"x":49.05,"y":-1.38},{"x":49.06,"y":0.54},{"x":49.07,"y":2.73},{"x":49.08,"y":3.79},{"x":49.09,"y":4.38},{"x":49.10,"y":3.93},{"x":49.11,"y":3.09},{"x":49.12,"y":1.43},{"x":49.13,"y":-0.01},{"x":49.14,"y":-1.96},
      {"x":49.15,"y":-2.67},{"x":49.16,"y":-4.15},{"x":49.17,"y":-4.48},{"x":49.18,"y":-4.40},{"x":49.19,"y":-3.17},{"x":49.20,"y":-1.49},{"x":49.21,"y":0.73},{"x":49.22,"y":2.62},{"x":49.23,"y":3.98},{"x":49.24,"y":4.27},{"x":49.25,"y":4.12},{"x":49.26,"y":2.98},{"x":49.27,"y":1.62},{"x":49.28,"y":-0.12},{"x":49.29,"y":-1.92},
      {"x":49.30,"y":-2.89},{"x":49.31,"y":-4.07},{"x":49.32,"y":-4.70},{"x":49.33,"y":-4.32},{"x":49.34,"y":-3.39},{"x":49.35,"y":-1.41},{"x":49.36,"y":0.51},{"x":49.37,"y":2.70},{"x":49.38,"y":3.76},{"x":49.39,"y":4.35},{"x":49.40,"y":3.90},{"x":49.41,"y":3.06},{"x":49.42,"y":1.40},{"x":49.43,"y":-0.04},{"x":49.44,"y":-1.99},
      {"x":49.45,"y":-2.66},{"x":49.46,"y":-4.14},{"x":49.47,"y":-4.47},{"x":49.48,"y":-4.39},{"x":49.49,"y":-3.16},{"x":49.50,"y":-1.48},{"x":49.51,"y":0.74},{"x":49.52,"y":2.63},{"x":49.53,"y":3.99},{"x":49.54,"y":4.28},{"x":49.55,"y":4.13},{"x":49.56,"y":2.99},{"x":49.57,"y":1.63},{"x":49.58,"y":-0.11},{"x":49.59,"y":-1.91},
      {"x":49.60,"y":-2.88},{"x":49.61,"y":-4.06},{"x":49.62,"y":-4.69},{"x":49.63,"y":-4.31},{"x":49.64,"y":-3.38},{"x":49.65,"y":-1.40},{"x":49.66,"y":0.52},{"x":49.67,"y":2.71},{"x":49.68,"y":3.77},{"x":49.69,"y":4.36},{"x":49.70,"y":3.91},{"x":49.71,"y":3.07},{"x":49.72,"y":1.41},{"x":49.73,"y":-0.03},{"x":49.74,"y":-1.98},
      {"x":49.75,"y":-2.65},{"x":49.76,"y":-4.13},{"x":49.77,"y":-4.46},{"x":49.78,"y":-4.38},{"x":49.79,"y":-3.15},{"x":49.80,"y":-1.47},{"x":49.81,"y":0.75},{"x":49.82,"y":2.64},{"x":49.83,"y":4.00},{"x":49.84,"y":4.29},{"x":49.85,"y":4.14},{"x":49.86,"y":3.00},{"x":49.87,"y":1.64},{"x":49.88,"y":-0.10},{"x":49.89,"y":-1.90},
      {"x":49.90,"y":-2.83},{"x":49.91,"y":-4.01},{"x":49.92,"y":-4.64},{"x":49.93,"y":-4.26},{"x":49.94,"y":-3.33},{"x":49.95,"y":-1.35},{"x":49.96,"y":0.57},{"x":49.97,"y":2.76},{"x":49.98,"y":3.82},{"x":49.99,"y":4.41},{"x":50.00,"y":3.96}
    ],
    "bFit": [
      {"x":49.00,"y":-2.94},{"x":49.01,"y":-4.02},{"x":49.02,"y":-4.40},{"x":49.03,"y":-4.02},{"x":49.04,"y":-2.94},{"x":49.05,"y":-1.36},{"x":49.06,"y":0.46},{"x":49.07,"y":2.20},{"x":49.08,"y":3.56},{"x":49.09,"y":4.30},{"x":49.10,"y":4.30},{"x":49.11,"y":3.56},{"x":49.12,"y":2.20},{"x":49.13,"y":0.46},{"x":49.14,"y":-1.36},
      {"x":49.15,"y":-2.94},{"x":49.16,"y":-4.02},{"x":49.17,"y":-4.40},{"x":49.18,"y":-4.02},{"x":49.19,"y":-2.94},{"x":49.20,"y":-1.36},{"x":49.21,"y":0.46},{"x":49.22,"y":2.20},{"x":49.23,"y":3.56},{"x":49.24,"y":4.30},{"x":49.25,"y":4.30},{"x":49.26,"y":3.56},{"x":49.27,"y":2.20},{"x":49.28,"y":0.46},{"x":49.29,"y":-1.36},
      {"x":49.30,"y":-2.94},{"x":49.31,"y":-4.02},{"x":49.32,"y":-4.40},{"x":49.33,"y":-4.02},{"x":49.34,"y":-2.94},{"x":49.35,"y":-1.36},{"x":49.36,"y":0.46},{"x":49.37,"y":2.20},{"x":49.38,"y":3.56},{"x":49.39,"y":4.30},{"x":49.40,"y":4.30},{"x":49.41,"y":3.56},{"x":49.42,"y":2.20},{"x":49.43,"y":0.46},{"x":49.44,"y":-1.36},
      {"x":49.45,"y":-2.94},{"x":49.46,"y":-4.02},{"x":49.47,"y":-4.40},{"x":49.48,"y":-4.02},{"x":49.49,"y":-2.94},{"x":49.50,"y":-1.36},{"x":49.51,"y":0.46},{"x":49.52,"y":2.20},{"x":49.53,"y":3.56},{"x":49.54,"y":4.30},{"x":49.55,"y":4.30},{"x":49.56,"y":3.56},{"x":49.57,"y":2.20},{"x":49.58,"y":0.46},{"x":49.59,"y":-1.36},
      {"x":49.60,"y":-2.94},{"x":49.61,"y":-4.02},{"x":49.62,"y":-4.40},{"x":49.63,"y":-4.02},{"x":49.64,"y":-2.94},{"x":49.65,"y":-1.36},{"x":49.66,"y":0.46},{"x":49.67,"y":2.20},{"x":49.68,"y":3.56},{"x":49.69,"y":4.30},{"x":49.70,"y":4.30},{"x":49.71,"y":3.56},{"x":49.72,"y":2.20},{"x":49.73,"y":0.46},{"x":49.74,"y":-1.36},
      {"x":49.75,"y":-2.94},{"x":49.76,"y":-4.02},{"x":49.77,"y":-4.40},{"x":49.78,"y":-4.02},{"x":49.79,"y":-2.94},{"x":49.80,"y":-1.36},{"x":49.81,"y":0.46},{"x":49.82,"y":2.20},{"x":49.83,"y":3.56},{"x":49.84,"y":4.30},{"x":49.85,"y":4.30},{"x":49.86,"y":3.56},{"x":49.87,"y":2.20},{"x":49.88,"y":0.46},{"x":49.89,"y":-1.36},
      {"x":49.90,"y":-2.94},{"x":49.91,"y":-4.02},{"x":49.92,"y":-4.40},{"x":49.93,"y":-4.02},{"x":49.94,"y":-2.94},{"x":49.95,"y":-1.36},{"x":49.96,"y":0.46},{"x":49.97,"y":2.20},{"x":49.98,"y":3.56},{"x":49.99,"y":4.30},{"x":50.00,"y":4.30}
    ],
    "bCal": [
      {"x":49.00,"y":0.15},{"x":49.01,"y":-0.10},{"x":49.02,"y":-0.20},{"x":49.03,"y":-0.35},{"x":49.04,"y":-0.35},{"x":49.05,"y":-0.10},{"x":49.06,"y":0.15},{"x":49.07,"y":0.45},{"x":49.08,"y":0.30},{"x":49.09,"y":0.00},{"x":49.10,"y":-0.30},{"x":49.11,"y":-0.55},{"x":49.12,"y":-0.70},{"x":49.13,"y":-0.55},{"x":49.14,"y":0.95},
      {"x":49.15,"y":0.19},{"x":49.16,"y":-0.06},{"x":49.17,"y":-0.16},{"x":49.18,"y":-0.31},{"x":49.19,"y":-0.31},{"x":49.20,"y":-0.06},{"x":49.21,"y":0.19},{"x":49.22,"y":0.49},{"x":49.23,"y":0.34},{"x":49.24,"y":0.04},{"x":49.25,"y":-0.26},{"x":49.26,"y":-0.51},{"x":49.27,"y":-0.66},{"x":49.28,"y":-0.51},{"x":49.29,"y":0.99},
      {"x":49.30,"y":0.12},{"x":49.31,"y":-0.13},{"x":49.32,"y":-0.23},{"x":49.33,"y":-0.38},{"x":49.34,"y":-0.38},{"x":49.35,"y":-0.13},{"x":49.36,"y":0.12},{"x":49.37,"y":0.42},{"x":49.38,"y":0.27},{"x":49.39,"y":-0.03},{"x":49.40,"y":-0.33},{"x":49.41,"y":-0.58},{"x":49.42,"y":-0.73},{"x":49.43,"y":-0.58},{"x":49.44,"y":0.92},
      {"x":49.45,"y":0.20},{"x":49.46,"y":-0.05},{"x":49.47,"y":-0.15},{"x":49.48,"y":-0.30},{"x":49.49,"y":-0.30},{"x":49.50,"y":-0.05},{"x":49.51,"y":0.20},{"x":49.52,"y":0.50},{"x":49.53,"y":0.35},{"x":49.54,"y":0.05},{"x":49.55,"y":-0.25},{"x":49.56,"y":-0.50},{"x":49.57,"y":-0.65},{"x":49.58,"y":-0.50},{"x":49.59,"y":1.00},
      {"x":49.60,"y":0.13},{"x":49.61,"y":-0.12},{"x":49.62,"y":-0.22},{"x":49.63,"y":-0.37},{"x":49.64,"y":-0.37},{"x":49.65,"y":-0.12},{"x":49.66,"y":0.13},{"x":49.67,"y":0.43},{"x":49.68,"y":0.28},{"x":49.69,"y":-0.02},{"x":49.70,"y":-0.32},{"x":49.71,"y":-0.57},{"x":49.72,"y":-0.72},{"x":49.73,"y":-0.57},{"x":49.74,"y":0.93},
      {"x":49.75,"y":0.21},{"x":49.76,"y":-0.04},{"x":49.77,"y":-0.14},{"x":49.78,"y":-0.29},{"x":49.79,"y":-0.29},{"x":49.80,"y":-0.04},{"x":49.81,"y":0.21},{"x":49.82,"y":0.51},{"x":49.83,"y":0.36},{"x":49.84,"y":0.06},{"x":49.85,"y":-0.24},{"x":49.86,"y":-0.49},{"x":49.87,"y":-0.64},{"x":49.88,"y":-0.49},{"x":49.89,"y":1.01},
      {"x":49.90,"y":0.18},{"x":49.91,"y":-0.07},{"x":49.92,"y":-0.17},{"x":49.93,"y":-0.32},{"x":49.94,"y":-0.32},{"x":49.95,"y":-0.07},{"x":49.96,"y":0.18},{"x":49.97,"y":0.48},{"x":49.98,"y":0.33},{"x":49.99,"y":0.03},{"x":50.00,"y":-0.27},
      {"x":49.00,"y":0.21},{"x":49.01,"y":-0.15},{"x":49.02,"y":-0.14},{"x":49.03,"y":-0.40},{"x":49.04,"y":-0.29},{"x":49.05,"y":-0.15},{"x":49.06,"y":0.21},{"x":49.07,"y":0.40},{"x":49.08,"y":0.36},{"x":49.09,"y":-0.05},{"x":49.10,"y":-0.24},{"x":49.11,"y":-0.60},{"x":49.12,"y":-0.64},{"x":49.13,"y":-0.60},{"x":49.14,"y":0.90},
      {"x":49.15,"y":0.14},{"x":49.16,"y":0.00},{"x":49.17,"y":-0.21},{"x":49.18,"y":-0.25},{"x":49.19,"y":-0.36},{"x":49.20,"y":0.00},{"x":49.21,"y":0.14},{"x":49.22,"y":0.55},{"x":49.23,"y":0.29},{"x":49.24,"y":0.10},{"x":49.25,"y":-0.31},{"x":49.26,"y":-0.45},{"x":49.27,"y":-0.71},{"x":49.28,"y":-0.45},{"x":49.29,"y":0.94},
      {"x":49.30,"y":0.18},{"x":49.31,"y":-0.18},{"x":49.32,"y":-0.17},{"x":49.33,"y":-0.43},{"x":49.34,"y":-0.32},{"x":49.35,"y":-0.18},{"x":49.36,"y":0.18},{"x":49.37,"y":0.37},{"x":49.38,"y":0.33},{"x":49.39,"y":-0.08},{"x":49.40,"y":-0.27},{"x":49.41,"y":-0.63},{"x":49.42,"y":-0.67},{"x":49.43,"y":-0.63},{"x":49.44,"y":0.87},
      {"x":49.45,"y":0.15},{"x":49.46,"y":0.01},{"x":49.47,"y":-0.20},{"x":49.48,"y":-0.24},{"x":49.49,"y":-0.35},{"x":49.50,"y":0.01},{"x":49.51,"y":0.15},{"x":49.52,"y":0.56},{"x":49.53,"y":0.30},{"x":49.54,"y":0.11},{"x":49.55,"y":-0.30},{"x":49.56,"y":-0.44},{"x":49.57,"y":-0.70},{"x":49.58,"y":-0.44},{"x":49.59,"y":0.95},
      {"x":49.60,"y":0.19},{"x":49.61,"y":-0.17},{"x":49.62,"y":-0.16},{"x":49.63,"y":-0.42},{"x":49.64,"y":-0.31},{"x":49.65,"y":-0.17},{"x":49.66,"y":0.19},{"x":49.67,"y":0.38},{"x":49.68,"y":0.34},{"x":49.69,"y":-0.07},{"x":49.70,"y":-0.26},{"x":49.71,"y":-0.62},{"x":49.72,"y":-0.66},{"x":49.73,"y":-0.62},{"x":49.74,"y":0.88},
      {"x":49.75,"y":0.16},{"x":49.76,"y":0.02},{"x":49.77,"y":-0.19},{"x":49.78,"y":-0.23},{"x":49.79,"y":-0.34},{"x":49.80,"y":0.02},{"x":49.81,"y":0.16},{"x":49.82,"y":0.57},{"x":49.83,"y":0.31},{"x":49.84,"y":0.12},{"x":49.85,"y":-0.29},{"x":49.86,"y":-0.43},{"x":49.87,"y":-0.69},{"x":49.88,"y":-0.43},{"x":49.89,"y":0.96},
      {"x":49.90,"y":0.24},{"x":49.91,"y":-0.12},{"x":49.92,"y":-0.11},{"x":49.93,"y":-0.37},{"x":49.94,"y":-0.26},{"x":49.95,"y":-0.12},{"x":49.96,"y":0.24},{"x":49.97,"y":0.43},{"x":49.98,"y":0.39},{"x":49.99,"y":-0.02},{"x":50.00,"y":-0.21},
      {"x":49.00,"y":0.08},{"x":49.01,"y":-0.02},{"x":49.02,"y":-0.27},{"x":49.03,"y":-0.27},{"x":49.04,"y":-0.42},{"x":49.05,"y":-0.02},{"x":49.06,"y":0.08},{"x":49.07,"y":0.53},{"x":49.08,"y":0.23},{"x":49.09,"y":0.08},{"x":49.10,"y":-0.37},{"x":49.11,"y":-0.47},{"x":49.12,"y":-0.77},{"x":49.13,"y":-0.47},{"x":49.14,"y":-0.60},
      {"x":49.15,"y":0.27},{"x":49.16,"y":-0.13},{"x":49.17,"y":-0.08},{"x":49.18,"y":-0.38},{"x":49.19,"y":-0.23},{"x":49.20,"y":-0.13},{"x":49.21,"y":0.27},{"x":49.22,"y":0.42},{"x":49.23,"y":0.42},{"x":49.24,"y":-0.03},{"x":49.25,"y":-0.18},{"x":49.26,"y":-0.58},{"x":49.27,"y":-0.58},{"x":49.28,"y":-0.58},{"x":49.29,"y":-0.56},
      {"x":49.30,"y":0.05},{"x":49.31,"y":-0.05},{"x":49.32,"y":-0.30},{"x":49.33,"y":-0.30},{"x":49.34,"y":-0.45},{"x":49.35,"y":-0.05},{"x":49.36,"y":0.05},{"x":49.37,"y":0.50},{"x":49.38,"y":0.20},{"x":49.39,"y":0.05},{"x":49.40,"y":-0.40},{"x":49.41,"y":-0.50},{"x":49.42,"y":-0.80},{"x":49.43,"y":-0.50},{"x":49.44,"y":-0.63},
      {"x":49.45,"y":0.28},{"x":49.46,"y":-0.12},{"x":49.47,"y":-0.07},{"x":49.48,"y":-0.37},{"x":49.49,"y":-0.22},{"x":49.50,"y":-0.12},{"x":49.51,"y":0.28},{"x":49.52,"y":0.43},{"x":49.53,"y":0.43},{"x":49.54,"y":-0.02},{"x":49.55,"y":-0.17},{"x":49.56,"y":-0.57},{"x":49.57,"y":-0.57},{"x":49.58,"y":-0.57},{"x":49.59,"y":-0.55},
      {"x":49.60,"y":0.06},{"x":49.61,"y":-0.04},{"x":49.62,"y":-0.29},{"x":49.63,"y":-0.29},{"x":49.64,"y":-0.44},{"x":49.65,"y":-0.04},{"x":49.66,"y":0.06},{"x":49.67,"y":0.51},{"x":49.68,"y":0.21},{"x":49.69,"y":0.06},{"x":49.70,"y":-0.39},{"x":49.71,"y":-0.49},{"x":49.72,"y":-0.79},{"x":49.73,"y":-0.49},{"x":49.74,"y":-0.62},
      {"x":49.75,"y":0.29},{"x":49.76,"y":-0.11},{"x":49.77,"y":-0.06},{"x":49.78,"y":-0.36},{"x":49.79,"y":-0.21},{"x":49.80,"y":-0.11},{"x":49.81,"y":0.29},{"x":49.82,"y":0.44},{"x":49.83,"y":0.44},{"x":49.84,"y":-0.01},{"x":49.85,"y":-0.16},{"x":49.86,"y":-0.56},{"x":49.87,"y":-0.56},{"x":49.88,"y":-0.56},{"x":49.89,"y":-0.54},
      {"x":49.90,"y":0.11},{"x":49.91,"y":0.01},{"x":49.92,"y":-0.24},{"x":49.93,"y":-0.24},{"x":49.94,"y":-0.39},{"x":49.95,"y":0.01},{"x":49.96,"y":0.11},{"x":49.97,"y":0.56},{"x":49.98,"y":0.26},{"x":49.99,"y":0.11},{"x":50.00,"y":-0.34}
    ]
  },
  "hconcat": [
    {
      "width": 403,
      "height": 395,
      "layer": [
        {
          "data": {"name": "aRes"},
          "mark": {"type": "point", "filled": false, "size": 34, "strokeWidth": 1.3, "opacity": 0.55},
          "encoding": {
            "x": {"field": "x", "type": "quantitative", "scale": {"domain": [4.95, 6.05], "nice": false, "zero": false},
                  "axis": {"title": "Distance (m)", "values": [5, 5.25, 5.5, 5.75, 6], "format": ".2f"}},
            "y": {"field": "y", "type": "quantitative", "scale": {"domain": [-250, 250], "nice": false, "zero": false},
                  "axis": {"orient": "left", "title": "D − D", "titleX": -79, "titleY": 281, "titleAngle": 270, "titleAlign": "left", "titleBaseline": "alphabetic", "values": [-200, -100, 0, 100, 200], "grid": true}},
            "color": {"datum": "Residuals", "type": "nominal",
                      "scale": {"domain": ["Residuals", "Sinusoidal fit", "Residuals after calibration"], "range": ["#1f77b4", "#d62728", "#ff7f0e"]},
                      "legend": {"title": null, "orient": "none", "legendX": 63, "legendY": 16, "padding": 0,
                                 "labelFont": "DejaVu Sans", "labelFontSize": 21, "labelColor": "#000", "labelOffset": 25, "labelLimit": 500, "rowPadding": 10.5,
                                 "symbolSize": 400, "symbolStrokeWidth": 1.4, "symbolFillColor": "transparent",
                                 "symbolType": {"expr": "datum.value === 'Sinusoidal fit' ? 'M-2,0H2' : 'M0.28,0A0.28,0.28 0 1,1 -0.28,0A0.28,0.28 0 1,1 0.28,0Z'"},
                                 "symbolDash": {"expr": "datum.value === 'Sinusoidal fit' ? [5.5, 2.4] : null"},
                                 "symbolOpacity": {"expr": "datum.value === 'Sinusoidal fit' ? 1 : 0.6"}}}
          }
        },
        {
          "data": {"name": "aFit"},
          "mark": {"type": "line", "strokeWidth": 1.5, "strokeDash": [5.5, 2.4], "interpolate": "monotone"},
          "encoding": {
            "x": {"field": "x", "type": "quantitative", "scale": {"domain": [4.95, 6.05], "nice": false, "zero": false},
                  "axis": {"title": "Distance (m)", "values": [5, 5.25, 5.5, 5.75, 6], "format": ".2f"}},
            "y": {"field": "y", "type": "quantitative", "scale": {"domain": [-250, 250], "nice": false, "zero": false},
                  "axis": {"orient": "left", "title": "HeNe", "titleFontSize": 15, "titleX": -74, "titleY": 215, "titleAngle": 270, "titleAlign": "left", "titleBaseline": "alphabetic", "labels": false, "ticks": false, "grid": false, "domain": false}},
            "color": {"datum": "Sinusoidal fit", "type": "nominal"}
          }
        },
        {
          "data": {"name": "aCal"},
          "mark": {"type": "point", "filled": false, "size": 34, "strokeWidth": 1.3, "opacity": 0.55},
          "encoding": {
            "x": {"field": "x", "type": "quantitative", "scale": {"domain": [4.95, 6.05], "nice": false, "zero": false},
                  "axis": {"title": "Distance (m)", "values": [5, 5.25, 5.5, 5.75, 6], "format": ".2f"}},
            "y": {"field": "y", "type": "quantitative", "scale": {"domain": [-250, 250], "nice": false, "zero": false},
                  "axis": {"orient": "left", "title": "(μm)", "titleX": -79, "titleY": 167, "titleAngle": 270, "titleAlign": "left", "titleBaseline": "alphabetic", "labels": false, "ticks": false, "grid": false, "domain": false}},
            "color": {"datum": "Residuals after calibration", "type": "nominal"}
          }
        },
        {
          "data": {"values": [{"panel": "(a)"}]},
          "mark": {"type": "text", "align": "left", "baseline": "alphabetic", "font": "DejaVu Sans", "fontSize": 22, "color": "#000"},
          "encoding": {
            "x": {"datum": 4.9645, "type": "quantitative", "scale": {"domain": [4.95, 6.05], "nice": false, "zero": false},
                  "axis": {"title": "Distance (m)", "values": [5, 5.25, 5.5, 5.75, 6], "format": ".2f"}},
            "y": {"datum": 212, "type": "quantitative", "axis": null},
            "text": {"field": "panel"}
          }
        }
      ],
      "resolve": {"axis": {"y": "independent"}}
    },
    {
      "width": 411,
      "height": 395,
      "layer": [
        {
          "data": {"name": "bRes"},
          "mark": {"type": "point", "filled": false, "size": 70, "strokeWidth": 2, "opacity": 0.5},
          "encoding": {
            "x": {"field": "x", "type": "quantitative", "scale": {"domain": [48.95, 50.05], "nice": false, "zero": false},
                  "axis": {"title": "Distance (m)", "values": [49, 49.25, 49.5, 49.75, 50], "format": ".2f"}},
            "y": {"field": "y", "type": "quantitative", "scale": {"domain": [-14, 14], "nice": false, "zero": false},
                  "axis": {"orient": "left", "title": "D − D", "titleX": -64, "titleY": 284, "titleAngle": 270, "titleAlign": "left", "titleBaseline": "alphabetic", "values": [-10, -5, 0, 5, 10], "grid": true}},
            "color": {"datum": "Residuals", "type": "nominal",
                      "scale": {"domain": ["Residuals", "Sinusoidal fit", "Residuals after calibration"], "range": ["#1f77b4", "#d62728", "#ff7f0e"]},
                      "legend": {"title": null, "orient": "none", "legendX": 71, "legendY": 16, "padding": 0,
                                 "labelFont": "DejaVu Sans", "labelFontSize": 21, "labelColor": "#000", "labelOffset": 25, "labelLimit": 500, "rowPadding": 10.5,
                                 "symbolSize": 400, "symbolStrokeWidth": 1.6, "symbolFillColor": "transparent",
                                 "symbolType": {"expr": "datum.value === 'Sinusoidal fit' ? 'M-2,0H2' : 'M0.42,0A0.42,0.42 0 1,1 -0.42,0A0.42,0.42 0 1,1 0.42,0Z'"},
                                 "symbolDash": {"expr": "datum.value === 'Sinusoidal fit' ? [5.5, 2.4] : null"},
                                 "symbolOpacity": {"expr": "datum.value === 'Sinusoidal fit' ? 1 : 0.55"}}}
          }
        },
        {
          "data": {"name": "bFit"},
          "mark": {"type": "line", "strokeWidth": 1.5, "strokeDash": [5.5, 2.4]},
          "encoding": {
            "x": {"field": "x", "type": "quantitative", "scale": {"domain": [48.95, 50.05], "nice": false, "zero": false},
                  "axis": {"title": "Distance (m)", "values": [49, 49.25, 49.5, 49.75, 50], "format": ".2f"}},
            "y": {"field": "y", "type": "quantitative", "scale": {"domain": [-14, 14], "nice": false, "zero": false},
                  "axis": {"orient": "left", "title": "HeNe", "titleFontSize": 15, "titleX": -59, "titleY": 218, "titleAngle": 270, "titleAlign": "left", "titleBaseline": "alphabetic", "labels": false, "ticks": false, "grid": false, "domain": false}},
            "color": {"datum": "Sinusoidal fit", "type": "nominal"}
          }
        },
        {
          "data": {"name": "bCal"},
          "mark": {"type": "point", "filled": false, "size": 70, "strokeWidth": 2, "opacity": 0.5},
          "encoding": {
            "x": {"field": "x", "type": "quantitative", "scale": {"domain": [48.95, 50.05], "nice": false, "zero": false},
                  "axis": {"title": "Distance (m)", "values": [49, 49.25, 49.5, 49.75, 50], "format": ".2f"}},
            "y": {"field": "y", "type": "quantitative", "scale": {"domain": [-14, 14], "nice": false, "zero": false},
                  "axis": {"orient": "left", "title": "(mm)", "titleX": -64, "titleY": 170, "titleAngle": 270, "titleAlign": "left", "titleBaseline": "alphabetic", "labels": false, "ticks": false, "grid": false, "domain": false}},
            "color": {"datum": "Residuals after calibration", "type": "nominal"}
          }
        },
        {
          "data": {"values": [{"panel": "(b)"}]},
          "mark": {"type": "text", "align": "left", "baseline": "alphabetic", "font": "DejaVu Sans", "fontSize": 22, "color": "#000"},
          "encoding": {
            "x": {"datum": 48.9669, "type": "quantitative", "scale": {"domain": [48.95, 50.05], "nice": false, "zero": false},
                  "axis": {"title": "Distance (m)", "values": [49, 49.25, 49.5, 49.75, 50], "format": ".2f"}},
            "y": {"datum": 11.87, "type": "quantitative", "axis": null},
            "text": {"field": "panel"}
          }
        }
      ],
      "resolve": {"axis": {"y": "independent"}}
    }
  ],
  "resolve": {"scale": {"color": "independent"}, "legend": {"color": "independent"}},
  "config": {
    "font": "DejaVu Sans",
    "view": {"stroke": "#000", "strokeWidth": 1.4},
    "axis": {
      "labelFont": "DejaVu Sans", "labelFontSize": 22, "labelColor": "#000",
      "titleFont": "DejaVu Sans", "titleFontSize": 22, "titleFontWeight": "normal", "titleColor": "#000",
      "tickColor": "#000", "tickWidth": 1.4, "tickSize": -9, "domain": false,
      "gridColor": "#ebebeb", "gridWidth": 1.3, "labelFlush": false, "labelOverlap": false
    },
    "axisX": {"labelPadding": 14, "titlePadding": 4},
    "axisY": {"labelPadding": 16}
  }
}
